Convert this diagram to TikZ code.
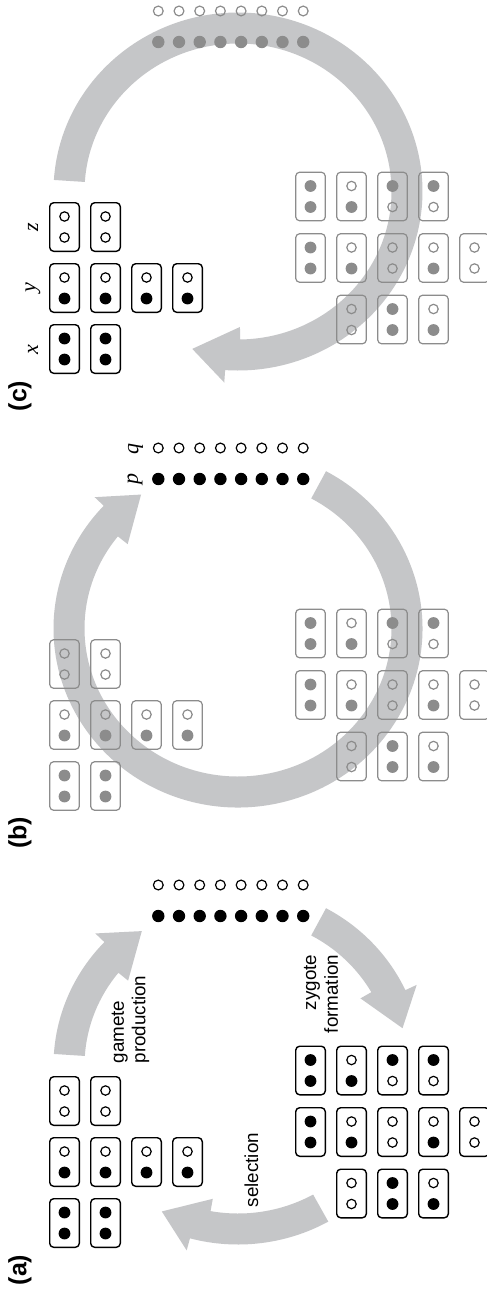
\documentclass[tikz,border=0pt]{standalone}
\usepackage{fontspec}
\setmainfont{Liberation Sans}
\newfontfamily\lserif{Liberation Serif}

\definecolor{band}{HTML}{C5C6C8}
\definecolor{mid}{HTML}{8C8C8C}

\tikzset{
  box/.style={rectangle, rounded corners=2pt, minimum width=14.8pt,
    minimum height=24.3pt, inner sep=0pt, outer sep=0pt},
  boxK/.style={box, draw=black, line width=0.7pt},
  boxG/.style={box, draw=mid, line width=0.6pt},
  dotO/.style={circle, inner sep=0pt, outer sep=0pt, minimum size=4.7pt, line width=0.6pt},
  dotF/.style={circle, inner sep=0pt, outer sep=0pt, minimum size=5.9pt},
  oK/.style={dotO, draw=black}, fK/.style={dotF, fill=black},
  oG/.style={dotO, draw=mid},   fG/.style={dotF, fill=mid},
  gamO/.style={circle, inner sep=0pt, minimum size=4.9pt, line width=0.6pt},
  gamF/.style={circle, inner sep=0pt, minimum size=6.2pt},
  gamOK/.style={gamO, draw=black}, gamFK/.style={gamF, fill=black},
  gamOG/.style={gamO, draw=mid},   gamFG/.style={gamF, fill=mid},
  steplabel/.style={font=\fontsize{9.4}{10.8}\selectfont, rotate=90, inner sep=0pt},
  panellabel/.style={font=\fontsize{12.5}{14}\selectfont\bfseries, rotate=90, inner sep=0pt},
  letter/.style={font=\fontsize{11}{13}\selectfont\lserif\itshape, rotate=90, inner sep=0pt},
}

% one genotype: box with two alleles (name, x, y, colour K/G, top o/f, bottom o/f)
\newcommand\geno[6]{%
  \node[box#4] (#1) at (#2,#3) {};
  \node[#5#4] (#1-t) at (#2,#3-10.5) {};
  \node[#6#4] (#1-b) at (#2,#3+10.5) {};
}

% curved broad arrow around the panel centre: tail angle, head base angle
\newcommand\bandarrow[2]{%
  \fill[band] (#1:184.5 and 179)
    arc[start angle=#1, end angle=#2+4.8, x radius=184.5, y radius=179]
    -- (#2+4.8:197 and 191.5) -- (#2+16.5:169 and 163.5) -- (#2:141 and 135.5)
    -- (#2:153.5 and 148)
    arc[start angle=#2, end angle=#1, x radius=153.5, y radius=148] -- cycle;
}

% adult genotypes (left group)
\newcommand\adults[2]{%
  \geno{#1z1}{64.5}{227}{#2}{o}{o}
  \geno{#1z2}{105.5}{227}{#2}{o}{o}
  \geno{#1y1}{64.5}{288}{#2}{o}{f}
  \geno{#1y2}{105.5}{288}{#2}{o}{f}
  \geno{#1y3}{146.5}{288}{#2}{o}{f}
  \geno{#1y4}{187.5}{288}{#2}{o}{f}
  \geno{#1x1}{64.5}{349}{#2}{f}{f}
  \geno{#1x2}{105.5}{349}{#2}{f}{f}
}

% zygote genotypes (right group)
\newcommand\zygotes[2]{%
  \geno{#1r11}{310.5}{196.5}{#2}{f}{f}
  \geno{#1r12}{351.5}{196.5}{#2}{o}{f}
  \geno{#1r13}{392.5}{196.5}{#2}{f}{o}
  \geno{#1r14}{433.5}{196.5}{#2}{f}{o}
  \geno{#1r21}{310.5}{258}{#2}{f}{f}
  \geno{#1r22}{351.5}{258}{#2}{o}{f}
  \geno{#1r23}{392.5}{258}{#2}{o}{o}
  \geno{#1r24}{433.5}{258}{#2}{o}{f}
  \geno{#1r25}{474.5}{258}{#2}{o}{o}
  \geno{#1r31}{351.5}{319.5}{#2}{o}{o}
  \geno{#1r32}{392.5}{319.5}{#2}{f}{f}
  \geno{#1r33}{433.5}{319.5}{#2}{o}{f}
}

% gamete pool: open row and filled row
\newcommand\gametes[2]{%
  \foreach \k in {0,...,7}{
    \node[gamO#2] (#1q\k) at ({158.3+20.7*\k},11) {};
    \node[gamF#2] (#1p\k) at ({158.3+20.7*\k},42) {};
  }
}

\begin{document}
\begin{tikzpicture}[x=0.5pt, y=-0.5pt]
  \clip (0,0) rectangle (487,1290);
  \fill[white] (0,0) rectangle (487,1290);

  % ---------- panel (c) ----------
  \begin{scope}
    \begin{scope}[shift={(238,191.5)}]
      \bandarrow{183.7}{449.2}
    \end{scope}
    \gametes{c}{G}
    \adults{c}{K}
    \zygotes{c}{G}
    \node[letter] (lz) at (33,227) {z};
    \node[letter] (ly) at (33,288) {y};
    \node[letter] (lx) at (33,350) {x};
    \node[panellabel] (pc) at (20,396) {(c)};
  \end{scope}

  % ---------- panel (b) ----------
  \begin{scope}[shift={(0,437)}]
    \begin{scope}[shift={(238,191.5)}]
      \bandarrow{298.5}{578.5}
    \end{scope}
    \gametes{b}{K}
    \adults{b}{G}
    \zygotes{b}{G}
    \node[letter] (lq) at (135.5,12) {q};
    \node[letter] (lp) at (135,42) {p};
    \node[panellabel] (pb) at (20,396) {(b)};
  \end{scope}

  % ---------- panel (a) ----------
  \begin{scope}[shift={(0,874)}]
    \begin{scope}[shift={(238,191.5)}]
      \bandarrow{183.7}{218.8}
      \bandarrow{298.5}{330.3}
      \bandarrow{60.7}{100.3}
    \end{scope}
    \gametes{a}{K}
    \adults{a}{K}
    \zygotes{a}{K}
    \node[steplabel, align=left] (gp) at (130.5,145.5) {gamete\\production};
    \node[steplabel, align=right] (zf) at (321,120) {zygote\\formation};
    \node[steplabel] (sel) at (251.5,296) {selection};
    \node[panellabel] (pa) at (20,396) {(a)};
  \end{scope}
\end{tikzpicture}
\end{document}
